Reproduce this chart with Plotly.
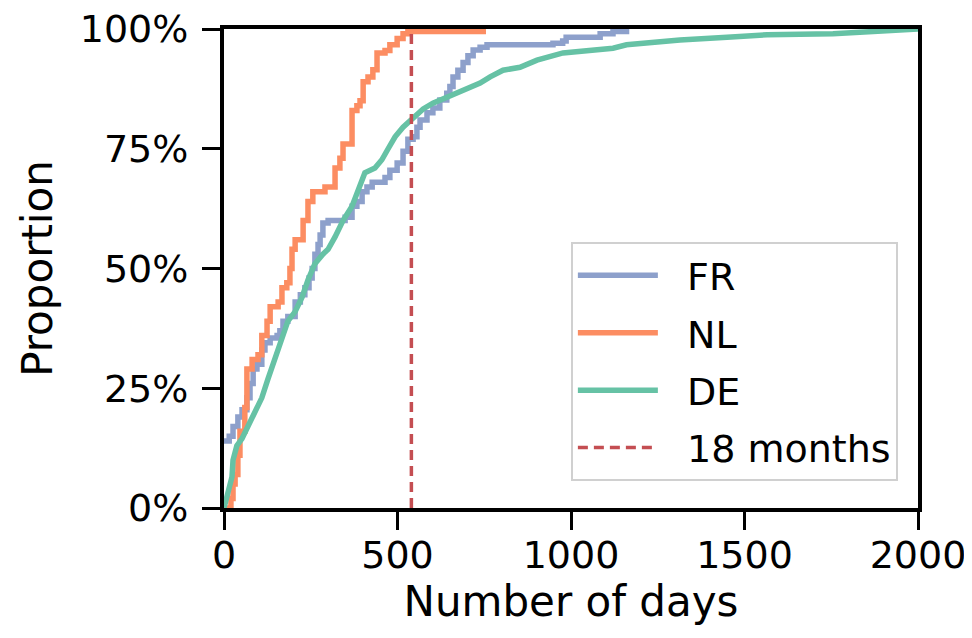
import plotly.graph_objects as go

# ---- data ----
fr_days = [0, 15, 26, 40, 52, 66, 75, 84, 95, 109, 118, 133, 153, 161, 170, 184, 205, 220, 233, 245,
           254, 262, 271, 277, 285, 300, 349, 369, 383, 398, 412, 427, 464, 478, 499, 516, 530, 545,
           556, 565, 585, 602, 622, 642, 651, 660, 674, 689, 703, 718, 738, 758, 890, 948, 976, 986,
           1084, 1121, 1160]
fr_prop = [0.14, 0.15, 0.17, 0.19, 0.205, 0.23, 0.26, 0.29, 0.30, 0.33, 0.345, 0.355, 0.36, 0.37, 0.39,
           0.40, 0.43, 0.445, 0.46, 0.48, 0.50, 0.53, 0.55, 0.57, 0.595, 0.60, 0.607, 0.63, 0.64, 0.66,
           0.67, 0.68, 0.69, 0.705, 0.72, 0.745, 0.77, 0.775, 0.795, 0.81, 0.825, 0.835, 0.852, 0.866,
           0.88, 0.90, 0.914, 0.93, 0.944, 0.956, 0.962, 0.967, 0.967, 0.97, 0.975, 0.983, 0.99, 0.995,
           1.0]

nl_days = [0, 20, 26, 32, 40, 46, 60, 66, 81, 98, 109, 124, 133, 156, 167, 181, 190, 196, 205, 228,
           242, 256, 291, 320, 334, 343, 369, 383, 392, 401, 415, 429, 441, 464, 478, 499, 516, 530, 755]
nl_prop = [0.0, 0.02, 0.05, 0.07, 0.11, 0.16, 0.21, 0.29, 0.31, 0.32, 0.36, 0.39, 0.42, 0.43, 0.46,
           0.47, 0.50, 0.54, 0.56, 0.60, 0.64, 0.66, 0.67, 0.71, 0.73, 0.76, 0.83, 0.84, 0.85, 0.89,
           0.90, 0.915, 0.95, 0.955, 0.967, 0.98, 0.99, 0.995, 0.995]

de_days = [0, 12, 23, 26, 37, 52, 69, 89, 109, 127, 147, 167, 184, 205, 225, 242, 262, 285, 300, 320,
           343, 369, 386, 406, 435, 455, 473, 493, 516, 545, 574, 602, 642, 689, 738, 767, 804, 853,
           902, 977, 1046, 1121, 1160, 1236, 1314, 1450, 1565, 1755, 1928, 2000]
de_prop = [0.0, 0.04, 0.065, 0.10, 0.13, 0.145, 0.17, 0.20, 0.23, 0.27, 0.315, 0.355, 0.39, 0.41, 0.44,
           0.476, 0.51, 0.53, 0.54, 0.566, 0.60, 0.63, 0.66, 0.70, 0.71, 0.727, 0.75, 0.775, 0.795,
           0.815, 0.833, 0.845, 0.858, 0.873, 0.887, 0.90, 0.914, 0.92, 0.935, 0.95, 0.956, 0.96,
           0.967, 0.972, 0.977, 0.983, 0.988, 0.99, 0.996, 1.0]

eighteen_months_days = 540
x_ticks = [0, 500, 1000, 1500, 2000]
y_ticks = [0, 0.25, 0.5, 0.75, 1.0]

FONT = "DejaVu Sans"
PAD = "\u00a0\u00a0"  # gap between legend sample and label

fig = go.Figure()
fig.add_trace(go.Scatter(x=fr_days, y=fr_prop, name=PAD + "FR", mode="lines", line_shape="hv",
                         line=dict(color="#8da0cb", width=5.5), legendgroup="a"))
fig.add_trace(go.Scatter(x=nl_days, y=nl_prop, name=PAD + "NL", mode="lines", line_shape="hv",
                         line=dict(color="#fc8d62", width=5.5), legendgroup="b"))
fig.add_trace(go.Scatter(x=de_days, y=de_prop, name=PAD + "DE", mode="lines", line_shape="linear",
                         line=dict(color="#66c2a5", width=5.5), legendgroup="c"))
fig.add_trace(go.Scatter(x=[eighteen_months_days, eighteen_months_days], y=[0, 1],
                         name=PAD + "18 months", mode="lines",
                         line=dict(color="#c44e52", width=3.5, dash="10px,6px"),
                         legendgroup="d"))

axis_common = dict(showline=True, linecolor="black", linewidth=4, mirror=True,
                   ticks="outside", ticklen=18, tickwidth=3, tickcolor="black",
                   showgrid=False, zeroline=False, automargin=False,
                   ticklabeloverflow="allow",
                   tickfont=dict(family=FONT, size=38, color="black"))

fig.update_layout(
    width=964, height=630,
    margin=dict(l=216, r=54, t=21, b=130),
    paper_bgcolor="white", plot_bgcolor="white",
    font=dict(family=FONT, color="black"),
    xaxis=dict(range=[0, 2000], tickvals=x_ticks, ticklabelstandoff=-8,
               title=dict(text="Number of days", font=dict(family=FONT, size=42), standoff=7),
               **axis_common),
    yaxis=dict(range=[0, 1], tickvals=y_ticks, tickformat=".0%", ticklabelstandoff=6,
               title=dict(text="Proportion", font=dict(family=FONT, size=42), standoff=15),
               **axis_common),
    legend=dict(x=0.971, xanchor="right", y=0.555, yanchor="top",
                bgcolor="white", bordercolor="#d0d0d0", borderwidth=2,
                font=dict(family=FONT, size=38, color="black"),
                tracegroupgap=5, traceorder="grouped", itemwidth=80),
    showlegend=True,
)

fig.write_html("out.html")
